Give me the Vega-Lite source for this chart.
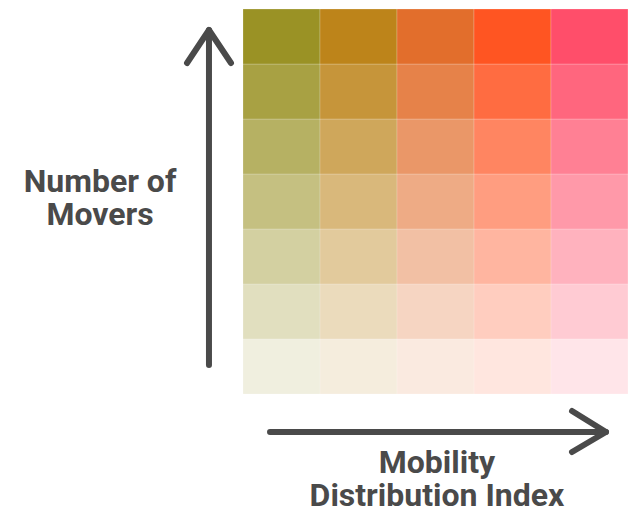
{
  "$schema": "https://vega.github.io/schema/vega-lite/v6.json",
  "width": 638,
  "height": 516,
  "autosize": {"type": "fit", "contains": "padding"},
  "padding": 0,
  "background": "white",
  "config": {"view": {"stroke": null}},
  "datasets": {
    "cells": [
      {"c": 1, "r": 1}, {"c": 2, "r": 1}, {"c": 3, "r": 1}, {"c": 4, "r": 1}, {"c": 5, "r": 1},
      {"c": 1, "r": 2}, {"c": 2, "r": 2}, {"c": 3, "r": 2}, {"c": 4, "r": 2}, {"c": 5, "r": 2},
      {"c": 1, "r": 3}, {"c": 2, "r": 3}, {"c": 3, "r": 3}, {"c": 4, "r": 3}, {"c": 5, "r": 3},
      {"c": 1, "r": 4}, {"c": 2, "r": 4}, {"c": 3, "r": 4}, {"c": 4, "r": 4}, {"c": 5, "r": 4},
      {"c": 1, "r": 5}, {"c": 2, "r": 5}, {"c": 3, "r": 5}, {"c": 4, "r": 5}, {"c": 5, "r": 5},
      {"c": 1, "r": 6}, {"c": 2, "r": 6}, {"c": 3, "r": 6}, {"c": 4, "r": 6}, {"c": 5, "r": 6},
      {"c": 1, "r": 7}, {"c": 2, "r": 7}, {"c": 3, "r": 7}, {"c": 4, "r": 7}, {"c": 5, "r": 7}
    ],
    "arrows": [
      {"path": "v-shaft", "o": 1, "u": 0.058, "v": 1.027},
      {"path": "v-shaft", "o": 2, "u": 0.058, "v": 7.118},
      {"path": "v-head", "o": 1, "u": -0.227, "v": 6.518},
      {"path": "v-head", "o": 2, "u": 0.058, "v": 7.118},
      {"path": "v-head", "o": 3, "u": 0.344, "v": 6.518},
      {"path": "h-shaft", "o": 1, "u": 0.851, "v": -0.191},
      {"path": "h-shaft", "o": 2, "u": 5.214, "v": -0.191},
      {"path": "h-head", "o": 1, "u": 4.773, "v": 0.191},
      {"path": "h-head", "o": 2, "u": 5.214, "v": -0.191},
      {"path": "h-head", "o": 3, "u": 4.773, "v": -0.555}
    ],
    "labels": [
      {"text": "Number of\nMovers", "u": -1.357, "v": 4.173},
      {"text": "Mobility\nDistribution Index", "u": 3.019, "v": -0.936}
    ]
  },
  "layer": [
    {
      "data": {"name": "cells"},
      "mark": {"type": "rect", "width": 77, "height": 55, "stroke": "white", "strokeWidth": 0.6, "strokeOpacity": 0.35},
      "encoding": {
        "x": {"field": "c", "type": "quantitative", "scale": {"domain": [-2.656, 5.63], "nice": false, "zero": false}, "axis": null},
        "y": {"field": "r", "type": "quantitative", "scale": {"domain": [-1.718, 7.664], "nice": false, "zero": false}, "axis": null},
        "color": {"field": "c", "type": "nominal", "scale": {"domain": [1, 2, 3, 4, 5], "range": ["#9a9225", "#bd841a", "#e26e2c", "#ff5522", "#ff4e6a"]}, "legend": null},
        "opacity": {"field": "r", "type": "quantitative", "scale": {"domain": [0, 7], "range": [0, 1]}, "legend": null}
      }
    },
    {
      "data": {"name": "arrows"},
      "mark": {"type": "line", "color": "#4a4a4a", "strokeWidth": 6, "strokeCap": "round", "strokeJoin": "round"},
      "encoding": {
        "x": {"field": "u", "type": "quantitative", "axis": null},
        "y": {"field": "v", "type": "quantitative", "axis": null},
        "detail": {"field": "path"},
        "order": {"field": "o", "type": "quantitative"}
      }
    },
    {
      "data": {"name": "labels"},
      "mark": {"type": "text", "font": "Roboto", "fontWeight": "bold", "fontSize": 32, "lineBreak": "\n", "lineHeight": 33, "color": "#4a4a4a", "align": "center", "baseline": "alphabetic"},
      "encoding": {
        "x": {"field": "u", "type": "quantitative", "axis": null},
        "y": {"field": "v", "type": "quantitative", "axis": null},
        "text": {"field": "text"}
      }
    }
  ]
}
